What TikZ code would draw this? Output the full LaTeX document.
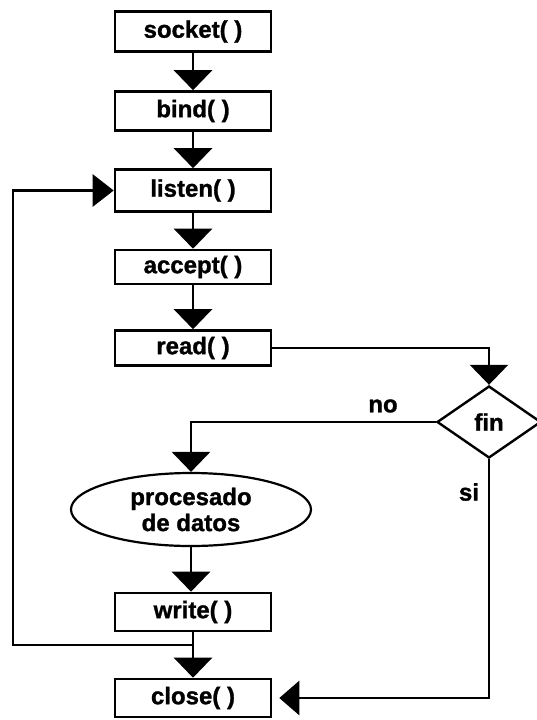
\documentclass[tikz,border=0pt]{standalone}
\usepackage{fontspec}
\setmainfont{Liberation Sans}[BoldFeatures={FakeBold=1.2}]
\usetikzlibrary{arrows.meta,shapes.geometric}
\begin{document}
\begin{tikzpicture}[x=1pt,y=-1pt,
  lbl/.style={font=\bfseries\fontsize{24}{28}\selectfont},
  box/.style={lbl,draw,line width=2.6pt,minimum width=156pt,inner sep=0pt},
  link/.style={line width=2.8pt},
  down/.style={link,-{Triangle[width=38pt,length=20pt]}},
  side/.style={link,-{Triangle[width=32pt,length=21pt]}}
]
\useasboundingbox (0,0) rectangle (536,720);
\fill[white] (0,0) rectangle (536,720);

% call sequence of the server
\node[box,minimum height=40pt] (socket) at (193,31.5) {socket( )};
\node[box,minimum height=39pt] (bind)   at (193,111)  {bind( )};
\node[box,minimum height=42pt] (listen) at (193,190.5) {listen( )};
\node[box,minimum height=34pt] (accept) at (193,267)  {accept( )};
\node[box,minimum height=35pt] (read)   at (193,348)  {read( )};
\node[lbl,draw,diamond,line width=2.4pt,minimum width=104pt,minimum height=72pt,inner sep=0pt]
      (fin) at (489,422) {fin};
\node[lbl,draw,ellipse,line width=2.2pt,minimum width=240pt,minimum height=73pt,inner sep=0pt,
      align=center] (proc) at (191,509.5) {procesado\\[-2pt]de datos};
\node[box,minimum height=38pt] (write)  at (193,612)  {write( )};
\node[box,minimum height=38pt] (close)  at (193,698)  {close( )};

% branch labels
\node[lbl] (no) at (383,406) {no};
\node[lbl] (si) at (469,492) {si};

% helper point of the loop back to listen()
\coordinate (loopL) at (13,645);

% connectors
\draw[down] (socket) -- (bind);
\draw[down] (bind) -- (listen);
\draw[down] (listen) -- (accept);
\draw[down] (accept) -- (read);
\draw[down] (read.east) -| (fin.north);
\draw[down] (fin.west) -| (proc.north);
\draw[down] (proc.south) -- (proc.south |- write.north);
\draw[down] (write) -- (close);
\draw[side] (write.south |- loopL) -- (loopL) |- (listen.west);
\draw[side,-{Triangle[width=34pt,length=20pt]},shorten >=7pt] (fin.south) |- (close.east);
\end{tikzpicture}
\end{document}
